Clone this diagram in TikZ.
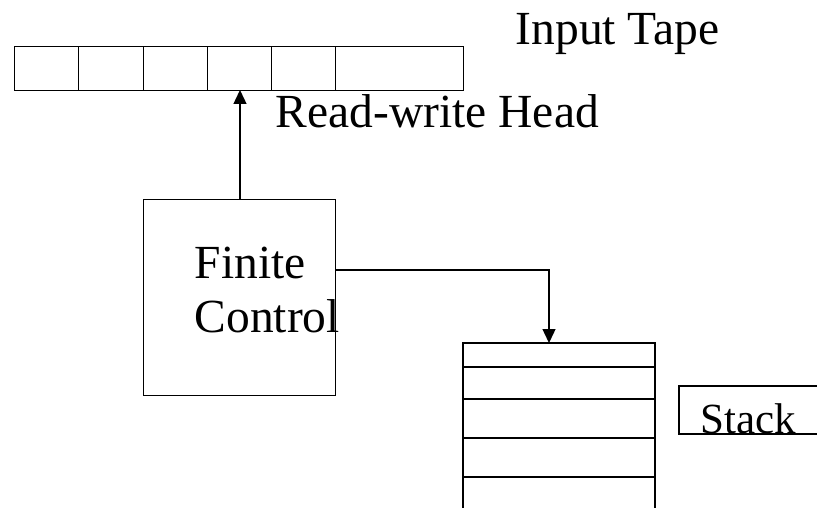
\documentclass[tikz,border=0pt]{standalone}
\usepackage{fontspec}
\setmainfont{Liberation Serif}
\usetikzlibrary{arrows.meta}
\begin{document}
\begin{tikzpicture}[x=1pt,y=-1pt,line width=1.4pt,
  lbl/.style={anchor=base west,inner sep=0pt,font=\fontsize{47.5}{57}\selectfont},
  arr/.style={-{Triangle[length=14pt,width=13pt]}},
  cell/.style={draw,minimum height=44pt,inner sep=0pt,anchor=north west}]
\useasboundingbox (0,0) rectangle (817,508);
% tape
\node[cell,minimum width=64pt] (c1) at (14,46) {};
\node[cell,minimum width=65pt] (c2) at (78,46) {};
\node[cell,minimum width=64pt] (c3) at (143,46) {};
\node[cell,minimum width=64pt] (c4) at (207,46) {};
\node[cell,minimum width=64pt] (c5) at (271,46) {};
\node[cell,minimum width=128pt] (c6) at (335,46) {};
\coordinate (head) at (240,90);
% labels
\node[lbl] (tapelbl) at (515,45) {Input Tape};
\node[lbl] (headlbl) at (275,128) {Read-write Head};
% finite control
\node[draw,minimum width=192pt,minimum height=196pt,inner sep=0pt,anchor=north west] (fc) at (143,199) {};
\node[lbl] (fin) at (194,278) {Finite};
\node[lbl] (ctl) at (194,332) {Control};
\coordinate (fcout) at (335,270);
\coordinate (bend) at (549,270);
\coordinate (stacktop) at (549,343);
\draw[arr] (fc.north -| head) -- (head);
\draw[arr] (fcout) -- (bend) -- (stacktop);
% stack
\draw (463,508) -- (463,343) -- (655,343) -- (655,508);
\foreach \yy in {367,399,438,477} \draw (463,\yy) -- (655,\yy);
% stack label
\draw (819,386) -- (679,386) -- (679,434) -- (819,434);
\node[lbl,font=\fontsize{43}{52}\selectfont] (stk) at (700,433) {Stack};
\end{tikzpicture}
\end{document}
